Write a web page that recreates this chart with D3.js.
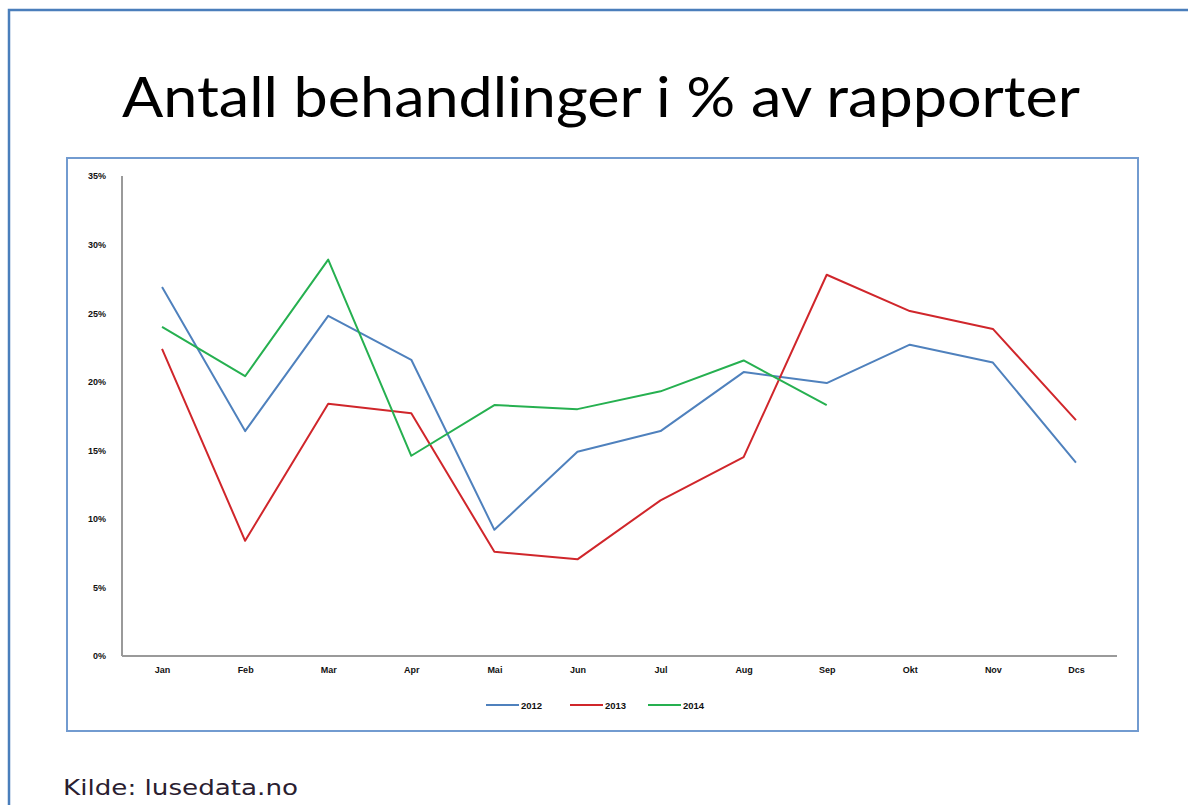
<!DOCTYPE html>
<html>
<head>
  <meta charset="utf-8">
  <script src="https://d3js.org/d3.v7.min.js"></script>
  <style>
  body { margin: 0; background: #fff; }
  * { font-family: "Liberation Sans", Arial, sans-serif; }
  </style>
</head>
<body>
<div id="chart"></div>
<script>
const months = ["Jan", "Feb", "Mar", "Apr", "Mai", "Jun", "Jul", "Aug", "Sep", "Okt", "Nov", "Dcs"];
const yTicks = [0, 5, 10, 15, 20, 25, 30, 35];
const years = ["2012", "2013", "2014"];
const v2012 = [26.9, 16.4, 24.8, 21.6, 9.2, 14.9, 16.4, 20.7, 19.9, 22.7, 21.4, 14.1];
const v2013 = [22.4, 8.4, 18.4, 17.7, 7.6, 7.05, 11.35, 14.5, 27.8, 25.15, 23.85, 17.2];
const v2014 = [24.0, 20.4, 28.9, 14.6, 18.3, 18.0, 19.3, 21.55, 18.3];
const colors = ["#4f81bd", "#d0262b", "#26b050"];

const W = 1188, H = 805;
const svg = d3.select("#chart").append("svg")
  .attr("width", W).attr("height", H);

// outer frame (runs off the right edge)
svg.append("path")
  .attr("d", `M9,${H} L9,10 L${W},10`)
  .attr("fill", "none")
  .attr("stroke", "#4a7ebb")
  .attr("stroke-width", 2.5);

// title
const title = svg.append("text")
  .attr("x", 601).attr("y", 117)
  .attr("text-anchor", "middle")
  .style("font-family", "Lato, 'Open Sans', sans-serif")
  .style("font-size", "56px")
  .attr("fill", "#000")
  .text("Antall behandlinger i % av rapporter");
title.attr("textLength", 958).attr("lengthAdjust", "spacingAndGlyphs");

// inner chart frame
svg.append("rect")
  .attr("x", 67).attr("y", 158)
  .attr("width", 1071).attr("height", 573)
  .attr("fill", "none")
  .attr("stroke", "#729bd0")
  .attr("stroke-width", 2);

const x = d3.scalePoint().domain(months).range([120.5, 1117.5]).padding(0.5);
const y = d3.scaleLinear().domain([0, 35]).range([656, 176]);

// y axis
const yAxis = svg.append("g")
  .attr("transform", "translate(122,0)")
  .call(d3.axisLeft(y).tickValues(yTicks).tickSize(0).tickPadding(16)
    .tickFormat(d => d + "%"));
yAxis.select(".domain").attr("stroke", "#9a9a9a").attr("stroke-width", 2)
  .attr("d", `M0,${y(35)}V${y(0)}`);
yAxis.selectAll("text")
  .style("font-size", "9px").style("font-weight", "bold")
  .attr("fill", "#111");

// x axis
const xAxis = svg.append("g")
  .attr("transform", `translate(0,${y(0)})`)
  .call(d3.axisBottom(x).tickSize(0).tickPadding(11));
xAxis.select(".domain").attr("stroke", "#9a9a9a").attr("stroke-width", 2)
  .attr("d", "M122,0H1117");
xAxis.selectAll("text")
  .style("font-size", "9px").style("font-weight", "bold")
  .attr("fill", "#111");

// lines
const line = d3.line()
  .x((d, i) => x(months[i]))
  .y(d => y(d));
[v2012, v2013, v2014].forEach((vals, i) => {
  svg.append("path")
    .datum(vals)
    .attr("fill", "none")
    .attr("stroke", colors[i])
    .attr("stroke-width", 2)
    .attr("stroke-linejoin", "round")
    .attr("d", line);
});

// legend
const legendX = [486, 570, 648];
years.forEach((yr, i) => {
  const g = svg.append("g").attr("transform", `translate(${legendX[i]},705)`);
  g.append("line").attr("x1", 0).attr("x2", 33).attr("y1", 0).attr("y2", 0)
    .attr("stroke", colors[i]).attr("stroke-width", 2);
  g.append("text").attr("x", 35).attr("y", 3.5)
    .style("font-size", "9.5px").style("font-weight", "bold")
    .attr("fill", "#111").text(yr);
});

// source
svg.append("text")
  .attr("x", 63).attr("y", 795)
  .style("font-family", "'DejaVu Sans', Verdana, sans-serif")
  .style("font-size", "21px")
  .attr("fill", "#2a2030")
  .attr("textLength", 235).attr("lengthAdjust", "spacingAndGlyphs")
  .text("Kilde: lusedata.no");
</script>
</body>
</html>
